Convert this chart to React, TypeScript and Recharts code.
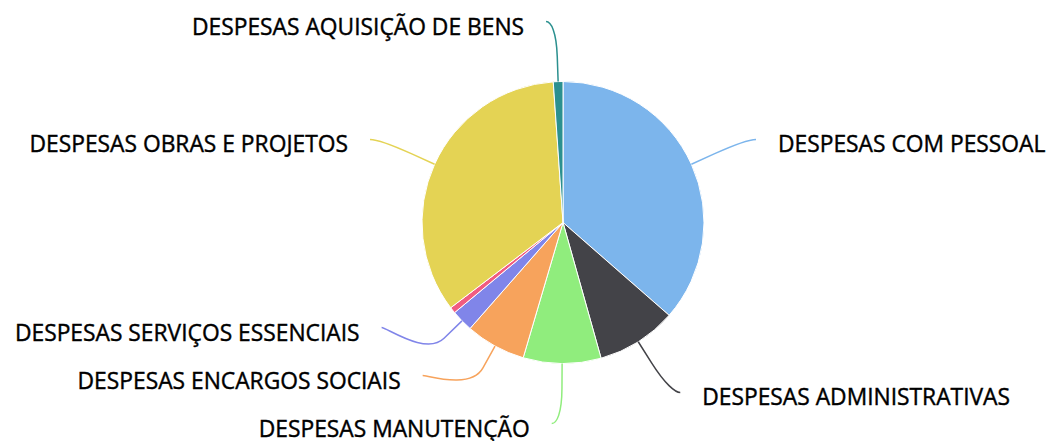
import React from 'react';
import { PieChart, Pie, Cell } from 'recharts';

const categories = [
  'DESPESAS COM PESSOAL',
  'DESPESAS ADMINISTRATIVAS',
  'DESPESAS MANUTENÇÃO',
  'DESPESAS ENCARGOS SOCIAIS',
  'DESPESAS SERVIÇOS ESSENCIAIS',
  'OUTRAS DESPESAS',
  'DESPESAS OBRAS E PROJETOS',
  'DESPESAS AQUISIÇÃO DE BENS',
];
const values = [36.4, 9.2, 8.9, 6.9, 2.5, 0.7, 34.2, 1.1];
const colors = ['#7cb5ec', '#434348', '#90ed7d', '#f7a35c', '#8085e9', '#f15c80', '#e4d354', '#2b908f'];

const data = categories.map((name, i) => ({ name, value: values[i] }));

const CX = 563;
const CY = 222.5;
const R = 141;
const LABEL_DIST = 60;
const BREAK_DIST = 25;
const GAP = 48;
const PAD = 10;
const TEXT_PAD = 22;
const MIN_PCT = 0.008;
const RAD = Math.PI / 180;

type Item = { index: number; ny: number; y: number; atBound: boolean };

// spread labels on one side so they don't overlap (like highcharts does)
function spread(items: Item[], lo: number, hi: number) {
  items.sort((a, b) => a.ny - b.ny);
  let clusters = items.map((it) => ({ items: [it], start: it.ny }));
  const place = (c: { items: Item[]; start: number }) => {
    const n = c.items.length;
    const mean = c.items.reduce((s, it) => s + it.ny, 0) / n;
    let start = mean - ((n - 1) * GAP) / 2;
    start = Math.max(lo, Math.min(hi - (n - 1) * GAP, start));
    c.start = start;
  };
  clusters.forEach(place);
  let merged = true;
  while (merged) {
    merged = false;
    for (let i = 0; i < clusters.length - 1; i++) {
      const a = clusters[i];
      const b = clusters[i + 1];
      if (a.start + a.items.length * GAP > b.start) {
        const c = { items: [...a.items, ...b.items], start: 0 };
        place(c);
        clusters.splice(i, 2, c);
        merged = true;
        break;
      }
    }
  }
  clusters.forEach((c) =>
    c.items.forEach((it, k) => {
      it.y = c.start + k * GAP;
      it.atBound = Math.abs(it.y - lo) < 0.5 || Math.abs(it.y - hi) < 0.5;
    })
  );
}

function buildLayout() {
  const total = values.reduce((s, v) => s + v, 0);
  const L = R + LABEL_DIST;
  const left: Item[] = [];
  const right: Item[] = [];
  let cum = 0;
  values.forEach((v, i) => {
    const mid = 90 - (360 * (cum + v / 2)) / total;
    cum += v;
    if (v / total < MIN_PCT) return;
    const it = { index: i, ny: CY - L * Math.sin(mid * RAD), y: 0, atBound: false };
    if (Math.cos(mid * RAD) < 0) left.push(it);
    else right.push(it);
  });
  spread(left, CY - L, CY + L);
  spread(right, CY - L, CY + L);
  const map: Record<number, Item> = {};
  [...left, ...right].forEach((it) => (map[it.index] = it));
  return map;
}

const layout = buildLayout();

const renderLabel = (props: any) => {
  const { cx, cy, midAngle, outerRadius, index, name, fill } = props;
  const it = layout[index];
  if (!it) return null;
  const cos = Math.cos(-midAngle * RAD);
  const sin = Math.sin(-midAngle * RAD);
  const isLeft = cos < 0;
  const dir = isLeft ? -1 : 1;
  const L = outerRadius + LABEL_DIST;
  const tx = cx + outerRadius * cos;
  const ty = cy + outerRadius * sin;
  const bx = cx + (outerRadius + BREAK_DIST) * cos;
  const by = cy + (outerRadius + BREAK_DIST) * sin;
  const y = it.y;
  const dy = y - cy;
  let x;
  if (it.atBound) x = cx + L * cos + dir * PAD;
  else x = cx + dir * (Math.sqrt(Math.max(0, L * L - dy * dy)) + PAD);
  const d = `M ${x} ${y} C ${x - dir * 5} ${y} ${2 * bx - tx} ${2 * by - ty} ${bx} ${by} L ${tx} ${ty}`;
  return (
    <g>
      <path d={d} fill="none" stroke={fill} strokeWidth={1.5} />
      <text
        x={x + dir * TEXT_PAD}
        y={y + 13}
        textAnchor={isLeft ? 'end' : 'start'}
        fill="#000000"
        stroke="#000000"
        strokeWidth={0.4}
        fontSize={22.8}
        fontFamily="'Open Sans', sans-serif"
      >
        {name}
      </text>
    </g>
  );
};

const App: React.FC = () => {
  return (
    <div style={{ position: 'absolute', left: 0, top: 0, width: 1046, height: 441, background: '#ffffff' }}>
      <PieChart width={1046} height={441} margin={{ top: 0, right: 0, bottom: 0, left: 0 }}>
        <Pie
          data={data}
          dataKey="value"
          nameKey="name"
          cx={CX}
          cy={CY}
          outerRadius={R}
          startAngle={90}
          endAngle={-270}
          stroke="#ffffff"
          strokeWidth={1}
          labelLine={false}
          label={renderLabel}
          isAnimationActive={false}
        >
          {data.map((d, i) => (
            <Cell key={d.name} fill={colors[i]} />
          ))}
        </Pie>
      </PieChart>
    </div>
  );
};

export default App;
